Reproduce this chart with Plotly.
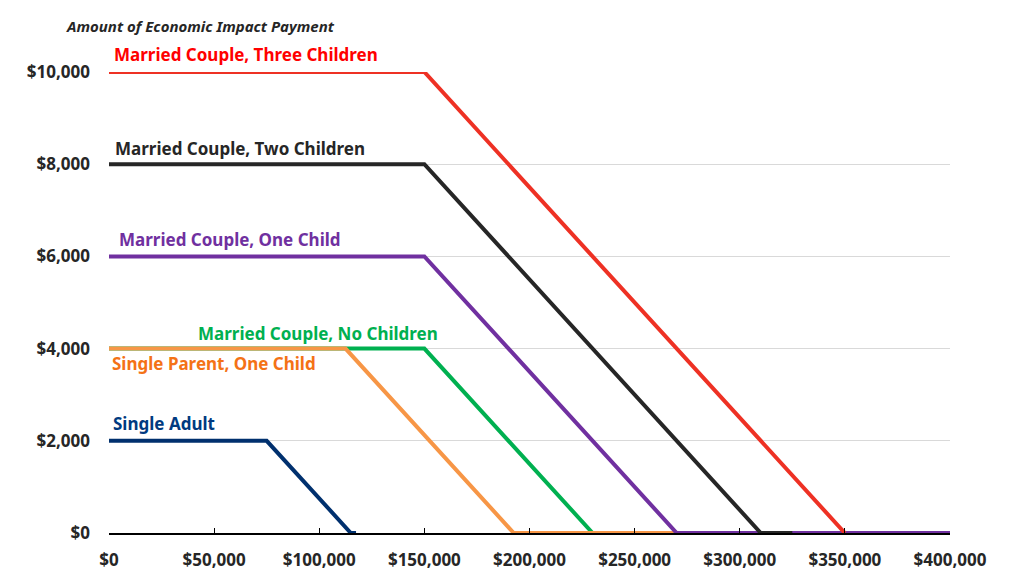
import plotly.graph_objects as go

# income (x) and payment (y) breakpoints for each household type
single_adult_x = [0, 75000, 115000, 117500]
single_adult_y = [2000, 2000, 0, 0]

no_children_x = [0, 150000, 230000, 240000]
no_children_y = [4000, 4000, 0, 0]

single_parent_x = [0, 112500, 192500, 400000]
single_parent_y = [4000, 4000, 0, 0]

one_child_x = [0, 150000, 270000, 400000]
one_child_y = [6000, 6000, 0, 0]

two_children_x = [0, 150000, 310000, 325000]
two_children_y = [8000, 8000, 0, 0]

three_children_x = [0, 150000, 350000]
three_children_y = [10000, 10000, 0]

x_ticks = [0, 50000, 100000, 150000, 200000, 250000, 300000, 350000, 400000]
y_ticks = [0, 2000, 4000, 6000, 8000, 10000]

series = [
    ("Single Adult", single_adult_x, single_adult_y, "#00306E"),
    ("Married Couple, No Children", no_children_x, no_children_y, "#00B050"),
    ("Single Parent, One Child", single_parent_x, single_parent_y, "#F79646"),
    ("Married Couple, One Child", one_child_x, one_child_y, "#7030A0"),
    ("Married Couple, Two Children", two_children_x, two_children_y, "#262626"),
    ("Married Couple, Three Children", three_children_x, three_children_y, "#EE3124"),
]

fig = go.Figure()
for name, xs, ys, col in series:
    fig.add_trace(go.Scatter(x=xs, y=ys, mode="lines", name=name,
                             line=dict(color=col, width=4), cliponaxis=False))

# labels placed next to each line (y given in payment dollars)
labels = [
    ("Married Couple, Three Children", 1600, 10370, "#FF0000"),
    ("Married Couple, Two Children", 2100, 8350, "#262626"),
    ("Married Couple, One Child", 4000, 6370, "#7030A0"),
    ("Married Couple, No Children", 41500, 4330, "#00B050"),
    ("Single Parent, One Child", 700, 3680, "#F47216"),
    ("Single Adult", 1100, 2370, "#003A80"),
]
for txt, lx, ly, col in labels:
    fig.add_annotation(x=lx, y=ly / 10000, yref="paper", text="<b>" + txt + "</b>",
                       showarrow=False, xanchor="left", yanchor="middle",
                       font=dict(size=17, color=col, family="Noto Sans"))

fig.add_annotation(text="<b><i>Amount of Economic Impact Payment</i></b>", xref="paper", yref="paper",
                   x=-0.053, y=1.099, xanchor="left", yanchor="middle", showarrow=False,
                   font=dict(size=15, color="#262626", family="Noto Sans"))

tick_font = dict(size=17, color="#262626", family="Noto Sans")

fig.update_layout(
    width=1024, height=575,
    margin=dict(l=101, r=82, t=64, b=43),
    plot_bgcolor="white", paper_bgcolor="white",
    showlegend=False,
    font=dict(family="Noto Sans", color="#262626"),
    xaxis=dict(range=[0, 400000], tickvals=x_ticks,
               ticktext=["<b>$" + f"{v:,}" + "</b>" for v in x_ticks],
               showgrid=False, zeroline=False, showline=True, linecolor="black",
               linewidth=1.5, ticks="inside", ticklen=5, tickcolor="black",
               ticklabelstandoff=11, tickfont=tick_font),
    yaxis=dict(range=[0, 10000], tickvals=y_ticks,
               ticktext=["<b>$" + f"{v:,}" + "</b>" for v in y_ticks],
               showgrid=True, gridcolor="#D9D9D9", gridwidth=1, zeroline=False,
               showline=False, ticks="", ticklabelstandoff=18, tickfont=tick_font),
)

fig.write_html("out.html")
